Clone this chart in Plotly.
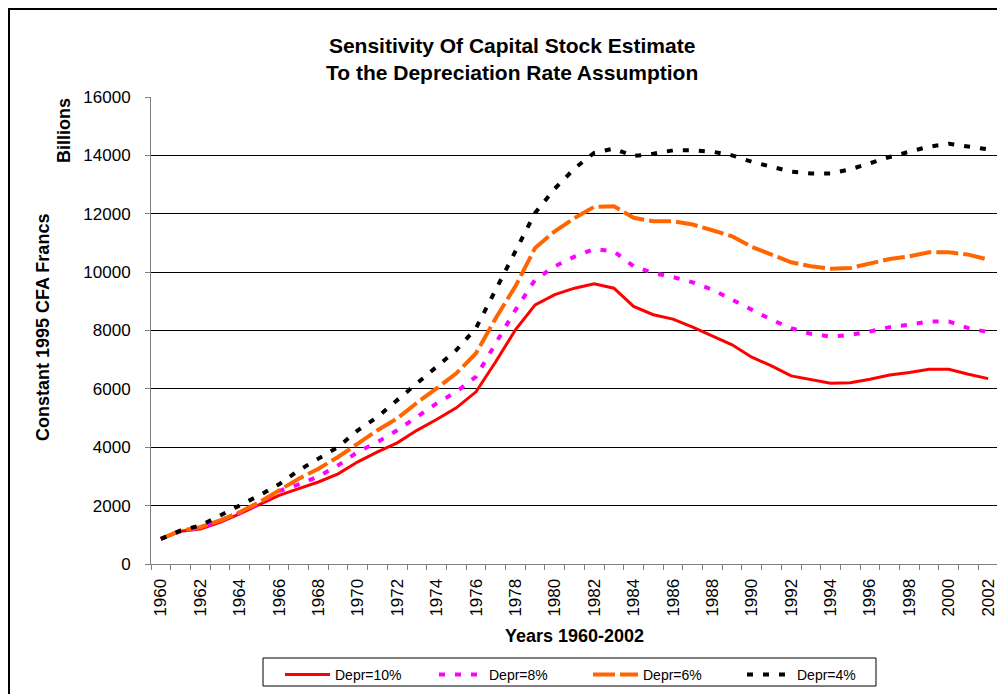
import plotly.graph_objects as go

years = list(range(1960, 2003))

depr10 = [860, 1120, 1200, 1430, 1720, 2040, 2350, 2580, 2810, 3090,
          3500, 3840, 4150, 4580, 4950, 5350, 5900, 6930, 8020, 8880,
          9230, 9450, 9600, 9450, 8825, 8540, 8390, 8115, 7817, 7510,
          7084, 6787, 6443, 6306, 6191, 6214, 6329, 6477, 6558, 6672,
          6672, 6500, 6351]

depr8 = [860, 1120, 1240, 1490, 1740, 2085, 2500, 2727, 3000, 3380,
         3840, 4180, 4580, 5040, 5500, 5900, 6420, 7560, 8700, 9740,
         10200, 10530, 10794, 10714, 10199, 9970, 9832, 9649, 9397, 9054,
         8710, 8367, 8080, 7886, 7794, 7850, 7966, 8115, 8195, 8309,
         8309, 8080, 7943]

depr6 = [860, 1146, 1260, 1490, 1776, 2120, 2521, 2922, 3266, 3667,
         4126, 4584, 4985, 5524, 6017, 6532, 7220, 8423, 9512, 10830,
         11400, 11850, 12237, 12260, 11860, 11744, 11744, 11630, 11435, 11229,
         10863, 10600, 10336, 10200, 10118, 10140, 10290, 10450, 10542, 10680,
         10680, 10600, 10428]

depr4 = [860, 1146, 1318, 1660, 1970, 2350, 2730, 3210, 3610, 4010,
         4580, 5040, 5615, 6190, 6760, 7330, 8080, 9400, 10660, 12030,
         12860, 13550, 14090, 14230, 13977, 14057, 14172, 14172, 14126, 14000,
         13782, 13600, 13439, 13382, 13382, 13520, 13748, 13943, 14126, 14298,
         14400, 14320, 14206]

series_names = ["Depr=10%", "Depr=8%", "Depr=6%", "Depr=4%"]
x_tick_years = list(range(1960, 2003, 2))
y_ticks = list(range(0, 16001, 2000))

FONT = "Liberation Sans, Arial, sans-serif"

fig = go.Figure()
fig.add_trace(go.Scatter(x=years, y=depr10, name=series_names[0], mode="lines",
                         line=dict(color="#FF0000", width=3)))
fig.add_trace(go.Scatter(x=years, y=depr8, name=series_names[1], mode="lines",
                         line=dict(color="#FF00FF", width=4, dash="6px,10px")))
fig.add_trace(go.Scatter(x=years, y=depr6, name=series_names[2], mode="lines",
                         line=dict(color="#FF6600", width=4, dash="22px,5px")))
fig.add_trace(go.Scatter(x=years, y=depr4, name=series_names[3], mode="lines",
                         line=dict(color="#000000", width=4, dash="6px,10px")))

# page-pixel geometry (the page has an 8px body margin)
OFF = 8
PL, PR, PT, PB = 151, 998, 97, 564
W, H = 1005 - OFF, 694 - OFF
pw, ph = PR - PL, PB - PT

def px(xp):
    return (xp - PL) / pw

def py(yp):
    return (PB - yp) / ph

fig.update_layout(
    width=W, height=H,
    margin=dict(l=PL - OFF, r=1005 - PR, t=PT - OFF, b=694 - PB, autoexpand=False),
    paper_bgcolor="white", plot_bgcolor="white",
    font=dict(family=FONT, color="black", size=17),
    showlegend=True,
    legend=dict(orientation="h", x=px(280), xanchor="left", y=py(659), yanchor="top",
                borderwidth=0, bgcolor="rgba(0,0,0,0)",
                font=dict(size=14, family=FONT), itemwidth=45,
                entrywidth=94, entrywidthmode="pixels", tracegroupgap=0),
    xaxis=dict(range=[1959.5, 2002.5], tickmode="array", tickvals=x_tick_years,
               ticktext=[str(y) for y in x_tick_years], tickangle=-90,
               ticks="", showgrid=False, zeroline=False, ticklabelstandoff=7,
               showline=True, linecolor="#808080", linewidth=1,
               tickfont=dict(size=17, family=FONT),
               minor=dict(tickmode="linear", tick0=1959.5, dtick=1, ticks="outside",
                          ticklen=5, tickcolor="#808080", showgrid=False)),
    yaxis=dict(range=[0, 16000], tickmode="array", tickvals=y_ticks, tickformat="d",
               ticks="outside", ticklen=5, tickcolor="#808080", ticklabelstandoff=11,
               showgrid=True, gridcolor="black", gridwidth=1, zeroline=False,
               showline=True, linecolor="#808080", linewidth=1,
               tickfont=dict(size=17, family=FONT)),
    annotations=[
        dict(text="<b>Sensitivity Of Capital Stock Estimate<br>To the Depreciation Rate Assumption</b>",
             x=px(512), y=py(59), xref="paper", yref="paper", showarrow=False,
             xanchor="center", yanchor="middle", font=dict(size=21, family=FONT)),
        dict(text="<b>Constant 1995 CFA Francs</b>", textangle=-90,
             x=px(43), y=py(328), xref="paper", yref="paper", showarrow=False,
             xanchor="center", yanchor="middle", font=dict(size=18, family=FONT)),
        dict(text="<b>Billions</b>", textangle=-90,
             x=px(64), y=py(131), xref="paper", yref="paper", showarrow=False,
             xanchor="center", yanchor="middle", font=dict(size=18, family=FONT)),
        dict(text="<b>Years 1960-2002</b>",
             x=px(574), y=py(636), xref="paper", yref="paper", showarrow=False,
             xanchor="center", yanchor="middle", font=dict(size=18, family=FONT)),
    ],
    shapes=[
        dict(type="rect", xref="paper", yref="paper",
             x0=px(9), x1=px(1020), y0=py(710), y1=py(9),
             line=dict(color="black", width=2), fillcolor="rgba(0,0,0,0)", layer="below"),
        dict(type="rect", xref="paper", yref="paper",
             x0=px(263), x1=px(876), y0=py(686), y1=py(658),
             line=dict(color="black", width=1), fillcolor="white", layer="below"),
    ],
)

fig.write_html("out.html")
